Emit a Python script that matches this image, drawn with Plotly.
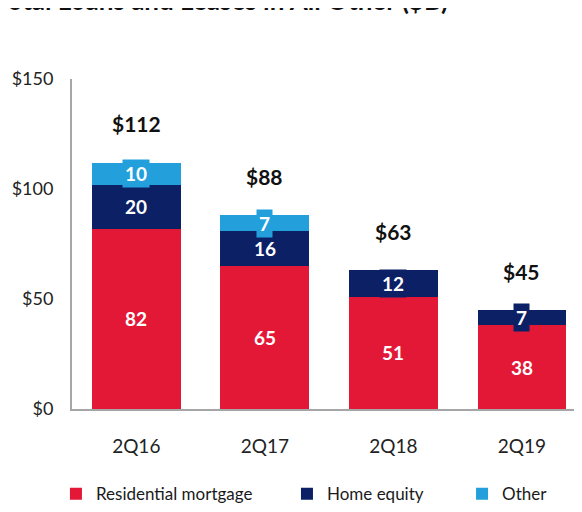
import plotly.graph_objects as go

# Data ($B)
quarters = ["2Q16", "2Q17", "2Q18", "2Q19"]
residential = [82, 65, 51, 38]
home_equity = [20, 16, 12, 7]
other = [10, 7, 0, 0]
totals = [112, 88, 63, 45]
y_ticks = [0, 50, 100, 150]
y_tick_labels = ["$0", "$50", "$100", "$150"]

RED = "#E31837"
NAVY = "#0C2066"
LIGHT_BLUE = "#23A0DC"
FONT = "Lato, 'Open Sans', sans-serif"

series = [
    ("Residential mortgage", residential, RED, "legend"),
    ("Home equity", home_equity, NAVY, "legend2"),
    ("Other", other, LIGHT_BLUE, "legend3"),
]

fig = go.Figure()
for name, vals, color, leg in series:
    fig.add_trace(go.Bar(
        x=quarters, y=vals, name=name,
        marker=dict(color=color, line=dict(width=0)),
        legend=leg,
    ))

annotations = []
# segment labels with a box in the segment colour
base = [0] * len(quarters)
for name, vals, color, leg in series:
    for i, v in enumerate(vals):
        if v > 0:
            annotations.append(dict(
                x=quarters[i], y=base[i] + v / 2, xref="x", yref="y",
                text=f"<b>{v}</b>", showarrow=False,
                font=dict(family=FONT, size=19, color="white"),
                bgcolor=color, borderpad=2,
            ))
        base[i] += v

# totals above each bar
for q, t in zip(quarters, totals):
    annotations.append(dict(
        x=q, y=t, xref="x", yref="y", yshift=39,
        text=f"<b>${t}</b>", showarrow=False,
        font=dict(family=FONT, size=21, color="#111111"),
    ))

# title, cut off at the top of the image
annotations.append(dict(
    x=-0.152, y=1.238, xref="paper", yref="paper",
    xanchor="left", yanchor="middle",
    text="<b>Total Loans and Leases in All Other ($B)</b>", showarrow=False,
    font=dict(family=FONT, size=26, color="#111111"),
))

legend_style = dict(
    orientation="h", yanchor="middle", y=-0.258, xanchor="left",
    font=dict(family=FONT, size=17, color="#1A1A1A"),
    itemwidth=30, bgcolor="rgba(0,0,0,0)",
)

fig.update_layout(
    width=582, height=512,
    margin=dict(l=64, r=0, t=71, b=111, autoexpand=False),
    paper_bgcolor="white", plot_bgcolor="white",
    barmode="stack", bargap=0.31,
    font=dict(family=FONT, color="#222222"),
    showlegend=True,
    legend=dict(x=-0.031, **legend_style),
    legend2=dict(x=0.415, **legend_style),
    legend3=dict(x=0.753, **legend_style),
    annotations=annotations,
    xaxis=dict(
        range=[-0.5, 3.53], showgrid=False, zeroline=False,
        showline=True, linecolor="#A6A6A6", linewidth=2,
        ticks="", ticklabelstandoff=19, automargin=False,
        tickfont=dict(family=FONT, size=19, color="#222222"),
    ),
    yaxis=dict(
        range=[0, 150], tickvals=y_ticks, ticktext=y_tick_labels,
        showgrid=False, zeroline=False,
        showline=True, linecolor="#A6A6A6", linewidth=2,
        ticks="", ticklabelstandoff=13, automargin=False,
        tickfont=dict(family=FONT, size=18, color="#222222"),
    ),
)

fig.write_html("out.html")
